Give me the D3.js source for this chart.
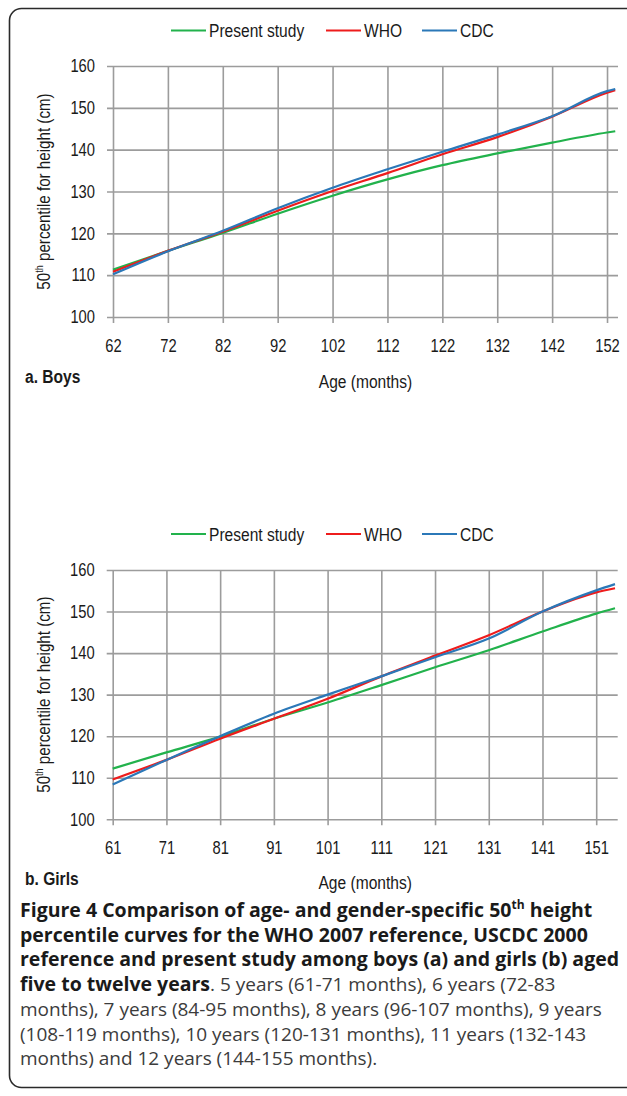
<!DOCTYPE html>
<html>
<head>
<meta charset="utf-8">
<script src="https://cdn.jsdelivr.net/npm/d3@7"></script>
<style>
  html, body { margin: 0; padding: 0; background: #fff; }
  svg { display: block; }
  .chart text { font-family: "Liberation Sans", Arial, sans-serif; fill: #1a1a1a; }
  .cap text { font-family: "Open Sans", "Noto Sans", sans-serif; }
</style>
</head>
<body>
<script>
// ---------- data ----------
const seriesNames = ["Present study", "WHO", "CDC"];
const seriesColors = ["#22b24c", "#ee1c1c", "#2b78b8"];

const yTicks = [100, 110, 120, 130, 140, 150, 160];

const boysTicks = [62, 72, 82, 92, 102, 112, 122, 132, 142, 152];
const boysMonths = [62, 72, 82, 92, 102, 112, 122, 132, 142, 152, 153.5];
const boysPresent = [111.3, 115.8, 120.1, 124.7, 129.0, 132.9, 136.3, 139.1, 141.7, 144.1, 144.4];
const boysWHO     = [110.8, 115.8, 120.4, 125.4, 130.1, 134.4, 138.9, 143.0, 147.9, 153.6, 154.2];
const boysCDC     = [110.2, 115.7, 120.6, 126.0, 130.9, 135.3, 139.5, 143.6, 148.0, 154.0, 154.5];

const girlsTicks = [61, 71, 81, 91, 101, 111, 121, 131, 141, 151];
const girlsMonths = [61, 71, 81, 91, 101, 111, 121, 131, 141, 151, 154.5];
const girlsPresent = [112.2, 116.1, 119.9, 124.2, 128.1, 132.3, 136.6, 140.7, 145.2, 149.5, 150.8];
const girlsWHO     = [109.6, 114.3, 119.4, 124.2, 129.0, 134.4, 139.4, 144.3, 150.0, 154.6, 155.6];
const girlsCDC     = [108.4, 114.3, 120.0, 125.4, 130.0, 134.4, 139.0, 143.5, 150.0, 155.1, 156.6];

// ---------- drawing ----------
const W = 627, H = 1096;
const NARROW = 0.82; // emulate a narrow sans face by horizontal scaling
const svg = d3.select("body").append("svg").attr("width", W).attr("height", H);

// outer frame
svg.append("rect")
  .attr("x", 9.5).attr("y", 8.5).attr("width", 660).attr("height", 1079)
  .attr("rx", 12).attr("ry", 12)
  .attr("fill", "none").attr("stroke", "#2a2a2a").attr("stroke-width", 1.6);

function narrowText(g, x, y, extra) {
  return g.append("text")
    .attr("transform", `translate(${x},${y}) ${extra || ""} scale(${NARROW},1)`);
}

function drawPanel(cfg) {
  const g = svg.append("g").attr("class", "chart");
  const x = d3.scaleLinear().domain(cfg.xDomain).range([cfg.left, cfg.right]);
  const y = d3.scaleLinear().domain([100, 160]).range([cfg.bottom, cfg.top]);
  const w = cfg.right - cfg.left, h = cfg.bottom - cfg.top;

  // y grid/axis
  const ya = g.append("g").attr("transform", `translate(${cfg.left},0)`)
    .call(d3.axisLeft(y).tickValues(yTicks).tickSize(-w).tickPadding(18).tickSizeOuter(0));
  ya.select(".domain").remove();
  ya.selectAll(".tick line").attr("x1", -6).attr("stroke", "#9c9c9c").attr("stroke-width", 1.6);
  ya.selectAll(".tick text").attr("font-size", 18)
    .attr("x", -18 / NARROW).attr("transform", `scale(${NARROW},1)`);

  // x grid/axis
  const xa = g.append("g").attr("transform", `translate(0,${cfg.bottom})`)
    .call(d3.axisBottom(x).tickValues(cfg.ticks).tickSize(-h).tickPadding(22).tickSizeOuter(0));
  xa.select(".domain").remove();
  xa.selectAll(".tick line").attr("y1", 6).attr("stroke", "#9c9c9c").attr("stroke-width", 1.6);
  xa.selectAll(".tick text").attr("font-size", 18).attr("transform", `scale(${NARROW},1)`);

  // lines
  const line = d3.line().x(d => x(d[0])).y(d => y(d[1])).curve(d3.curveMonotoneX);
  cfg.series.forEach((vals, i) => {
    const pts = cfg.months.map((m, j) => [m, vals[j]]);
    g.append("path").datum(pts).attr("d", line)
      .attr("fill", "none").attr("stroke", seriesColors[i]).attr("stroke-width", 2.2)
      .attr("stroke-linejoin", "round");
  });

  // legend
  const lx = [171, 326, 422];
  seriesNames.forEach((n, i) => {
    g.append("line").attr("x1", lx[i]).attr("x2", lx[i] + 35)
      .attr("y1", cfg.legendY).attr("y2", cfg.legendY)
      .attr("stroke", seriesColors[i]).attr("stroke-width", 2.2);
    narrowText(g, lx[i] + 38, cfg.legendY).attr("dy", "0.35em")
      .attr("font-size", 19).text(n);
  });

  // y title
  const yt = narrowText(g, 50, (cfg.top + cfg.bottom) / 2, "rotate(-90)")
    .attr("text-anchor", "middle").attr("font-size", 18.5);
  yt.append("tspan").text("50");
  yt.append("tspan").attr("font-size", 11).attr("dy", -7).text("th");
  yt.append("tspan").attr("dy", 7).text(" percentile for height (cm)");

  // x title
  narrowText(g, (cfg.left + cfg.right) / 2, cfg.xTitleY)
    .attr("text-anchor", "middle").attr("font-size", 19).text("Age (months)");

  // panel label
  narrowText(g, 25, cfg.labelY)
    .attr("font-size", 19).attr("font-weight", "bold").text(cfg.label);
}

drawPanel({
  left: 113, right: 618, top: 66, bottom: 317, xDomain: [62, 154],
  ticks: boysTicks, months: boysMonths, series: [boysPresent, boysWHO, boysCDC],
  legendY: 30.5, xTitleY: 388, labelY: 383, label: "a. Boys"
});
drawPanel({
  left: 112.7, right: 617.7, top: 570, bottom: 819.3, xDomain: [61, 155],
  ticks: girlsTicks, months: girlsMonths, series: [girlsPresent, girlsWHO, girlsCDC],
  legendY: 534, xTitleY: 889, labelY: 885, label: "b. Girls"
});

// caption
const cap = svg.append("g").attr("class", "cap");
const capLines = [
  [["b", "Figure 4 Comparison of age- and gender-specific 50"], ["bs", "th"], ["b", " height"]],
  [["b", "percentile curves for the WHO 2007 reference, USCDC 2000"]],
  [["b", "reference and present study among boys (a) and girls (b) aged"]],
  [["b", "five to twelve years"], ["r", ". 5 years (61-71 months), 6 years (72-83"]],
  [["r", "months), 7 years (84-95 months), 8 years (96-107 months), 9 years"]],
  [["r", "(108-119 months), 10 years (120-131 months), 11 years (132-143"]],
  [["r", "months) and 12 years (144-155 months)."]]
];
capLines.forEach((parts, i) => {
  const t = cap.append("text").attr("x", 20).attr("y", 917 + i * 24.7).attr("font-size", 19);
  parts.forEach(([k, s], j) => {
    const sp = t.append("tspan").text(s);
    if (k === "b") sp.attr("font-weight", "bold").attr("fill", "#1a1a1a").attr("font-size", 19.5);
    if (k === "bs") sp.attr("font-weight", "bold").attr("fill", "#1a1a1a").attr("font-size", 12).attr("dy", -8);
    if (k === "r") sp.attr("fill", "#3c3c3c");
    if (j > 0 && parts[j - 1][0] === "bs") sp.attr("dy", 8);
  });
});
</script>
</body>
</html>
